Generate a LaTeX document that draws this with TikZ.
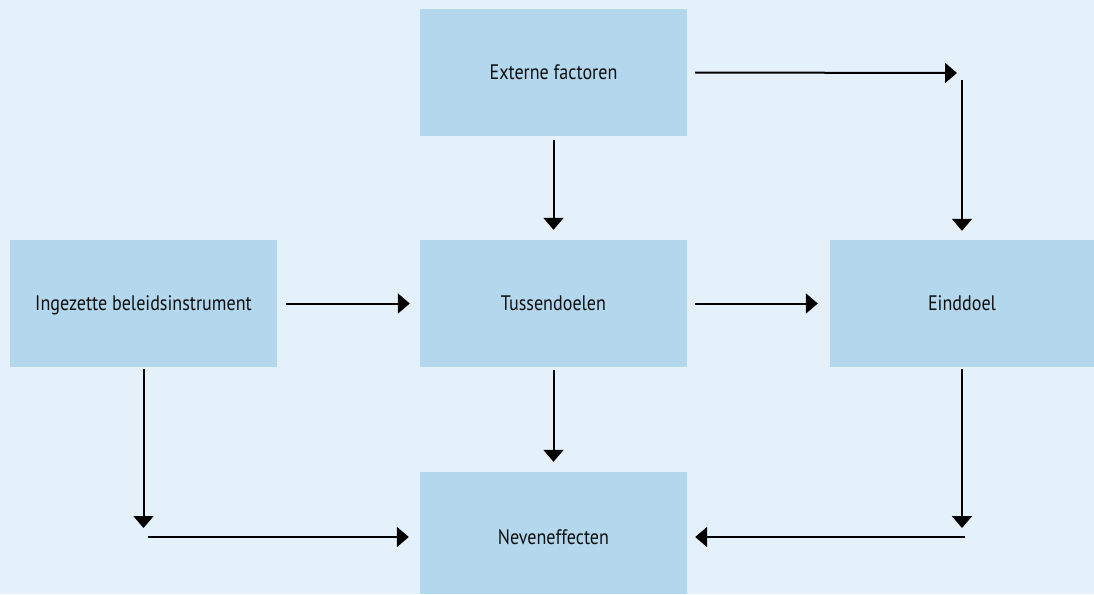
\documentclass[tikz,border=0pt]{standalone}
\usepackage{fontspec}
\setmainfont{PT Sans}[FakeStretch=0.86]
\usetikzlibrary{arrows.meta}
\definecolor{bgblue}{RGB}{228,241,250}
\definecolor{boxblue}{RGB}{179,215,237}
\definecolor{txt}{RGB}{15,15,15}
\tikzset{
  box/.style={fill=boxblue, draw=none, inner sep=0pt, text=txt, text height=14.5pt, text depth=0pt, font=\fontsize{21}{24}\selectfont},
  arr/.style={line width=2pt, -{Triangle[width=20pt,length=12pt]}}
}
\begin{document}
\begin{tikzpicture}[x=1pt,y=-1pt]
\fill[bgblue] (0,0) rectangle (1094,594);
\useasboundingbox (0,0) rectangle (1094,594);
\node[box, minimum width=267pt, minimum height=127pt] (ext) at (553.5,72.5) {Externe factoren};
\node[box, minimum width=267pt, minimum height=127pt] (ing) at (143.5,303.5) {Ingezette beleidsinstrument};
\node[box, minimum width=267pt, minimum height=127pt] (tus) at (553.5,303.5) {Tussendoelen};
\node[box, minimum width=264pt, minimum height=127pt] (ein) at (962,303.5) {Einddoel};
\node[box, minimum width=267pt, minimum height=122pt] (nev) at (553.5,533) {\raisebox{-4pt}{Neveneffecten}};
\coordinate (c1) at (962,73);
\coordinate (c2) at (143.5,537);
\coordinate (c3) at (962,537);
\draw[arr, shorten <=8pt, shorten >=5pt] (ext.east) -- (c1);
\draw[arr, shorten <=7pt, shorten >=9pt] (c1) -- (ein.north);
\draw[arr, shorten <=4pt, shorten >=10pt] (ext.south) -- (tus.north);
\draw[arr, shorten <=9pt, shorten >=10pt] (ing.east) -- (tus.west);
\draw[arr, shorten <=8pt, shorten >=12pt] (tus.east) -- (ein.west);
\draw[arr, shorten <=3pt, shorten >=10pt] (tus.south) -- (nev.north);
\draw[arr, shorten <=2pt, shorten >=9pt] (ing.south) -- (c2);
\draw[arr, shorten <=4pt, shorten >=11pt] (c2) -- (c2 -| nev.west);
\draw[arr, shorten <=2pt, shorten >=9pt] (ein.south) -- (c3);
\draw[arr, shorten <=-3pt, shorten >=8pt] (c3) -- (c3 -| nev.east);
\end{tikzpicture}
\end{document}
